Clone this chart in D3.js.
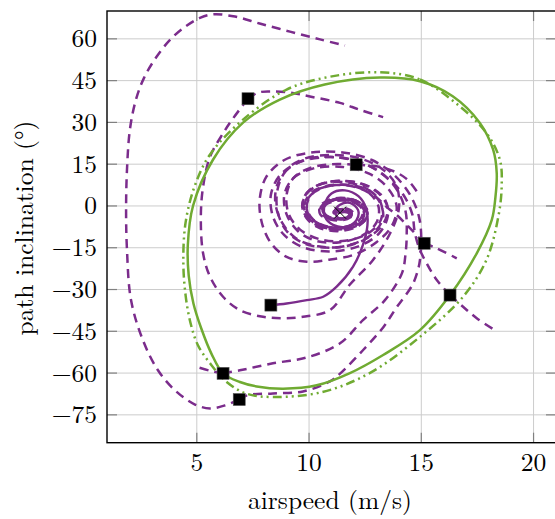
<!DOCTYPE html>
<html><head><meta charset="utf-8">
<script src="https://cdn.jsdelivr.net/npm/d3@7"></script>
<style>body{margin:0;background:#fff}svg{display:block}</style>
</head><body>
<script>
// ---- data ----
const xTicks = [5, 10, 15, 20];
const yTicks = [60, 45, 30, 15, 0, -15, -30, -45, -60, -75];
const xLabel = "airspeed (m/s)";
const yLabel = "path inclination (°)";

// limit cycle (green solid, closed)
const limitCycle = [[13.16,46.1],[14.94,44.8],[16.4,39.4],[17.6,29.9],[18.2,20.2],[18.36,11.8],[18.3,3],[18.14,-5],[17.47,-17],[16.28,-32],[14.94,-44.6],[13.3,-53.5],[11.82,-60],[10.34,-64.4],[8.85,-65.6],[7.67,-64.8],[6.92,-63.2],[6.18,-60.2],[5.65,-53],[5.2,-44],[4.85,-35],[4.64,-25],[4.6,-14],[4.83,0],[5.72,16.6],[7.06,29.9],[8.7,38.2],[10.7,43.6]];
// periodic orbit (green dash-dot-dot, closed)
const periodicOrbit = [[13.16,48],[14.94,45.4],[16.72,35.7],[17.9,26.2],[18.5,16.6],[18.58,7],[18.43,-3.9],[17.9,-19.4],[16.86,-32.6],[14.94,-47],[12.7,-60],[10.6,-66.8],[8.39,-68.6],[7.22,-67.4],[6.33,-63.2],[5.59,-56.5],[5.05,-50],[4.72,-42],[4.5,-32],[4.4,-20],[4.5,-6],[4.9,7],[5.59,18.5],[7.06,31],[9.0,41.8],[10.93,46.4]];

// initial states (black squares)
const initialStates = [[7.28,38.5],[12.1,14.8],[15.13,-13.4],[16.28,-32],[8.3,-35.6],[6.17,-60.1],[6.89,-69.5]];
const equilibrium = [11.38,-2.4];

// dashed trajectories (purple)
const trajBackA = [[7.28,38.5],[7.73,40.7],[8.26,41.1],[9.15,40.7],[10.04,39.3],[11.38,37],[12.27,34.5],[13.3,31.9]];
const trajForwardA = [[7.28,38.5],[6.63,31.6],[6.18,26.2],[5.59,17.7],[5.28,6.9],[5.18,-4],[5.28,-17],[5.59,-25.4],[6.17,-32.6],[6.92,-37.4],[7.95,-39.8],[8.85,-40.3],[9.73,-39.8],[10.93,-37.4],[11.8,-28.4],[12.85,-19.4],[13.6,-10],[14.0,-1],[13.9,7],[13.3,13],[12.3,17],[11,18.3],[9.8,17],[9,13],[8.6,6],[8.6,-2],[9,-9],[9.8,-13.5],[10.9,-15],[12,-13.5],[12.9,-9.5],[13.3,-4],[13.1,2],[12.5,6.5],[11.6,8.5],[10.6,8],[9.9,4.5],[9.7,-0.5],[10,-5],[10.7,-8],[11.6,-8.3],[12.3,-6],[12.5,-2.5],[12.2,0.8],[11.5,2.3],[10.8,1.5],[10.5,-1],[10.7,-3.8],[11.3,-4.8],[11.8,-3.8],[11.8,-1.8],[11.4,-1.2],[11.1,-2],[11.38,-2.4]];
const trajBackB = [[12.1,14.8],[13.3,13.8],[14.3,10],[14.9,4]];
const trajForwardB = [[12.1,14.8],[11,15],[10,13.5],[9.3,10],[9,4],[9.1,-3],[9.6,-8.5],[10.5,-12],[11.6,-12.5],[12.6,-10],[13.2,-5],[13.2,1],[12.7,5.5],[11.8,7.5],[10.8,7],[10.1,4],[9.9,-0.5],[10.2,-5],[10.9,-7.5],[11.8,-7.2],[12.4,-4.5],[12.4,-1],[11.9,1.5],[11.2,1.8],[10.7,0],[10.7,-3],[11.2,-4.5],[11.7,-4],[11.8,-2.5],[11.5,-1.6],[11.2,-2.2],[11.38,-2.4]];
const trajBackC = [[15.13,-13.4],[15.69,-15.2],[16.58,-18.8]];
const trajForwardC = [[15.13,-13.4],[14.57,-8.6],[13.9,-3.2],[13.5,-0.7],[13,3],[12.2,6.5],[11.2,7.5],[10.3,5.5],[9.9,1.5],[10,-3.5],[10.6,-7],[11.5,-8],[12.3,-6],[12.6,-2.5],[12.3,1],[11.6,2.6],[10.9,1.8],[10.6,-0.8],[10.8,-3.6],[11.4,-4.6],[11.9,-3.4],[11.8,-1.5],[11.3,-1.3],[11.1,-2.3],[11.38,-2.4]];
const trajBackD = [[16.28,-32],[16.86,-36.2],[17.47,-40.3],[18.28,-44.6]];
const trajForwardD = [[16.28,-32],[15.69,-26.6],[15.24,-20.6],[14.9,-15],[14.7,-9],[14.6,-3],[14.2,4],[13.5,10],[12.5,15],[11.2,17.5],[10,17],[9.1,13.5],[8.6,8],[8.5,1],[8.8,-6],[9.4,-11.5],[10.4,-14.5],[11.6,-14.5],[12.6,-11.5],[13.3,-6.5],[13.5,-0.5],[13.1,4.5],[12.3,8],[11.3,9],[10.4,7.5],[9.8,3.5],[9.8,-1.5],[10.2,-6],[11,-8.3],[11.9,-7.8],[12.5,-5],[12.6,-1.5],[12.2,1.5],[11.5,2.8],[10.9,1.8],[10.6,-0.8],[10.8,-3.8],[11.4,-4.8],[11.9,-3.5],[11.8,-1.5],[11.3,-1.2],[11.1,-2.3],[11.38,-2.4]];
const trajBackE = [[6.17,-60.1],[5.6,-59.2],[5.0,-57.8]];
const trajForwardE = [[6.17,-60.1],[6.92,-59],[8.39,-56.5],[9.9,-54.4],[11.38,-49.3],[12.4,-41],[13.38,-33.8],[14.14,-24.1],[14.3,-17],[14.35,-10],[14.3,-2],[13.9,6],[13.1,12.5],[12,16.5],[10.7,17.5],[9.5,15.5],[8.7,11],[8.3,4],[8.4,-4],[8.9,-10.5],[9.8,-15],[11,-16.3],[12.2,-14.5],[13.1,-10],[13.5,-4],[13.4,2],[12.8,6.5],[11.9,8.8],[10.8,8.5],[10,5.5],[9.7,0.5],[9.9,-4.5],[10.5,-8],[11.4,-9],[12.2,-7.2],[12.6,-3.5],[12.4,0.2],[11.8,2.6],[11,2.5],[10.5,0],[10.5,-3],[11,-5],[11.7,-4.7],[12,-2.8],[11.7,-1],[11.2,-1.2],[11.1,-2.6],[11.38,-2.4]];
const trajBackF = [[6.89,-69.5],[6.26,-71.6],[5.59,-72.7],[4.92,-71.3],[4.03,-66.2],[3.27,-59],[2.6,-48.2],[2.07,-33.8],[1.89,-15.8],[1.85,-1.4],[1.89,13],[2.02,27.4],[2.29,38.2],[2.65,46],[3.2,53.5],[3.85,60],[4.56,64.8],[5.14,67.5],[5.72,68.8],[6.7,68],[7.8,65.5],[9.15,62.6],[10.49,59.8],[11.6,57.6]];
const trajForwardF = [[6.89,-69.5],[7.24,-68],[8.39,-67.3],[9.73,-66.6],[10.93,-63],[11.38,-60.2],[12.4,-51.8],[13.3,-43.6],[13.9,-36.4],[14.6,-28.4],[14.85,-23],[14.94,-19.4],[15.0,-12],[14.9,-4],[14.5,4],[13.8,11],[12.8,16.5],[11.5,19.2],[10.1,19.2],[8.9,16.5],[8.1,10.5],[7.8,2.2],[7.9,-6.1],[8.3,-13.3],[9.0,-18.3],[9.9,-20],[10.8,-19.4],[12,-17.5],[13,-13],[13.7,-7],[13.9,0],[13.5,6.5],[12.7,11.5],[11.5,14],[10.2,13.5],[9.3,10],[8.9,4],[9.0,-3],[9.5,-9],[10.3,-12.5],[11.4,-13],[12.4,-10.5],[13,-6],[13.1,-0.5],[12.7,4.5],[11.9,7.3],[10.9,7.4],[10.1,4.8],[9.8,0.5],[10,-4],[10.6,-7],[11.5,-7.6],[12.2,-5.5],[12.4,-2],[12.1,1],[11.5,2.3],[10.9,1.5],[10.6,-1],[10.8,-3.8],[11.4,-4.6],[11.8,-3.4],[11.7,-1.6],[11.3,-1.4],[11.15,-2.4],[11.38,-2.4]];
// solid purple trajectory
const trajSolid = [[8.3,-35.6],[9.0,-35],[9.9,-33.8],[10.63,-32.6],[11.23,-29],[11.96,-21.8],[12.4,-14],[12.6,-7],[12.55,-1],[12.2,3.5],[11.6,5.6],[11.0,4.5],[10.71,0.8],[10.71,-3.9],[11.07,-6.8],[11.68,-7.4],[12.12,-5],[12.18,-1.4],[11.82,1.1],[11.38,0.4],[11.16,-1.8],[11.3,-4.3],[11.6,-4.5],[11.8,-3],[11.6,-2.2],[11.38,-2.4]];

const dashedTrajectories = [trajBackA, trajForwardA, trajBackB, trajForwardB, trajBackC, trajForwardC, trajBackD, trajForwardD, trajBackE, trajForwardE, trajBackF, trajForwardF];

// ---- drawing ----
const W = 555, H = 519;
const L = 107, R = 556, T = 11, B = 442.7;
const FONT = "'Latin Modern Roman', 'Liberation Serif', serif";
const x = d3.scaleLinear().domain([1, 21]).range([L, R]);
const y = d3.scaleLinear().domain([-85, 70]).range([B, T]);
const purple = "#7b2c8c", green = "#70ab32";

const svg = d3.select("body").append("svg").attr("width", W).attr("height", H);
svg.append("defs").append("clipPath").attr("id","clip").append("rect")
  .attr("x", L).attr("y", T).attr("width", R - L).attr("height", B - T);

// grid
const grid = svg.append("g");
grid.selectAll(".gx").data(xTicks).join("line")
  .attr("x1", d => x(d)).attr("x2", d => x(d)).attr("y1", T).attr("y2", B)
  .attr("stroke", "#cccccc").attr("stroke-width", 1);
grid.selectAll(".gy").data(yTicks).join("line")
  .attr("y1", d => y(d)).attr("y2", d => y(d)).attr("x1", L).attr("x2", R)
  .attr("stroke", "#cccccc").attr("stroke-width", 1);

const plot = svg.append("g").attr("clip-path", "url(#clip)");
const lineOpen = d3.line().x(d => x(d[0])).y(d => y(d[1])).curve(d3.curveCatmullRom.alpha(0.5));
const lineClosed = d3.line().x(d => x(d[0])).y(d => y(d[1])).curve(d3.curveCatmullRomClosed.alpha(0.5));

plot.selectAll(".traj").data(dashedTrajectories).join("path")
  .attr("d", lineOpen).attr("fill", "none").attr("stroke", purple)
  .attr("stroke-width", 2.5).attr("stroke-dasharray", "9,6");
plot.append("path").attr("d", lineOpen(trajSolid)).attr("fill", "none")
  .attr("stroke", purple).attr("stroke-width", 2.4);

plot.append("path").attr("d", lineClosed(periodicOrbit)).attr("fill", "none")
  .attr("stroke", green).attr("stroke-width", 2.5).attr("stroke-dasharray", "9,4,2,4,2,4");
plot.append("path").attr("d", lineClosed(limitCycle)).attr("fill", "none")
  .attr("stroke", green).attr("stroke-width", 2.5);

// equilibrium X
const ex = x(equilibrium[0]), ey = y(equilibrium[1]), s = 6;
plot.append("path").attr("d", `M${ex-s},${ey-s}L${ex+s},${ey+s}M${ex-s},${ey+s}L${ex+s},${ey-s}`)
  .attr("stroke", "#000").attr("stroke-width", 1);

// squares
plot.selectAll(".sq").data(initialStates).join("rect")
  .attr("x", d => x(d[0]) - 6).attr("y", d => y(d[1]) - 6)
  .attr("width", 12).attr("height", 12).attr("fill", "#000")
  .attr("stroke", "#555").attr("stroke-width", 0.6);

// ticks (inside, all sides)
const tk = svg.append("g").attr("stroke", "#808080").attr("stroke-width", 1.2);
xTicks.forEach(v => {
  tk.append("line").attr("x1", x(v)).attr("x2", x(v)).attr("y1", B).attr("y2", B - 10);
  tk.append("line").attr("x1", x(v)).attr("x2", x(v)).attr("y1", T).attr("y2", T + 10);
});
yTicks.forEach(v => {
  tk.append("line").attr("y1", y(v)).attr("y2", y(v)).attr("x1", L).attr("x2", L + 10);
  tk.append("line").attr("y1", y(v)).attr("y2", y(v)).attr("x1", R).attr("x2", R - 10);
});

// axis box
svg.append("rect").attr("x", L).attr("y", T).attr("width", R - L).attr("height", B - T)
  .attr("fill", "none").attr("stroke", "#000").attr("stroke-width", 1.4);

// tick labels
const fmt = v => (v < 0 ? "\u2212" + Math.abs(v) : String(v));
svg.selectAll(".xl").data(xTicks).join("text")
  .attr("x", d => x(d)).attr("y", 471).attr("text-anchor", "middle")
  .style("font-family", FONT).attr("font-size", 25.5).attr("fill", "#000").text(fmt);
svg.selectAll(".yl").data(yTicks).join("text")
  .attr("x", 97).attr("y", d => y(d) + 8.5).attr("text-anchor", "end")
  .style("font-family", FONT).attr("font-size", 25.5).attr("fill", "#000").text(fmt);

// axis labels
svg.append("text").attr("x", 330).attr("y", 509).attr("text-anchor", "middle")
  .style("font-family", FONT).attr("font-size", 25.5).attr("fill", "#000").text(xLabel);
svg.append("text").attr("transform", `translate(33,228) rotate(-90)`).attr("text-anchor", "middle")
  .style("font-family", FONT).attr("font-size", 25.5).attr("fill", "#000").text(yLabel);
</script>
</body></html>
